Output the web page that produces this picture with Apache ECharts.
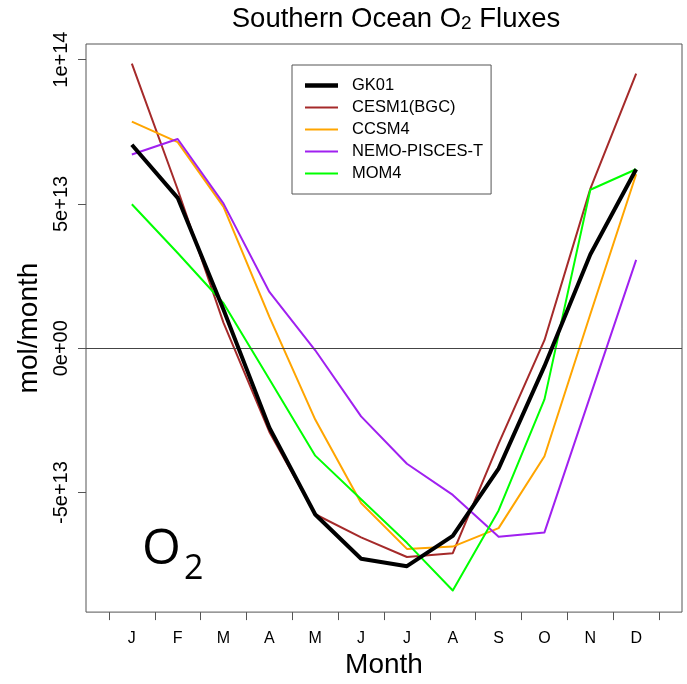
<!DOCTYPE html>
<html>
<head>
<meta charset="utf-8">
<script src="https://cdn.jsdelivr.net/npm/echarts@6/dist/echarts.min.js"></script>
<style>
html,body{margin:0;padding:0;background:#fff;}
#c{width:687px;height:684px;}
</style>
</head>
<body>
<div id="c"></div>
<script>
// ---- data (mol/month) ----
const months = ['J','F','M','A','M','J','J','A','S','O','N','D'];
const seriesNames = ['GK01','CESM1(BGC)','CCSM4','NEMO-PISCES-T','MOM4'];
const gk01  = [7.05e13, 5.21e13, 1.33e13, -2.75e13, -5.76e13, -7.29e13, -7.55e13, -6.50e13, -4.17e13, -0.62e13, 3.25e13, 6.20e13];
const cesm1 = [9.86e13, 5.50e13, 0.88e13, -2.90e13, -5.75e13, -6.55e13, -7.23e13, -7.10e13, -3.30e13, 0.28e13, 5.52e13, 9.51e13];
const ccsm4 = [7.85e13, 7.14e13, 4.90e13, 1.09e13, -2.47e13, -5.36e13, -6.95e13, -6.87e13, -6.23e13, -3.74e13, 1.18e13, 6.03e13];
const nemo  = [6.71e13, 7.25e13, 5.01e13, 1.95e13, -0.07e13, -2.36e13, -4.00e13, -5.08e13, -6.53e13, -6.38e13, -1.65e13, 3.06e13];
const mom4  = [4.99e13, 3.30e13, 1.56e13, -1.07e13, -3.72e13, -5.23e13, -6.74e13, -8.39e13, -5.62e13, -1.77e13, 5.49e13, 6.20e13];
const yTickValues = [-5e13, 0, 5e13, 1e14];
const yTickLabels = ['-5e+13', '0e+00', '5e+13', '1e+14'];

// ---- build ----
const allData = [gk01, cesm1, ccsm4, nemo, mom4];
const colors = ['#000000', '#A52A2A', '#FFA500', '#A020F0', '#00FF00'];
const widths = [4, 2, 2, 2, 2];
const monthPos = months.map((m, i) => i + 1);
const boundaryPos = [0].concat(monthPos).map(v => v + 0.5);
const FONT = '"Liberation Sans", Arial, sans-serif';

const series = allData.map((arr, k) => ({
  name: seriesNames[k],
  type: 'line',
  data: arr.map((v, i) => [monthPos[i], v]),
  showSymbol: false,
  symbol: 'none',
  lineStyle: { color: colors[k], width: widths[k], join: 'round' },
  itemStyle: { color: colors[k] },
  z: k === 0 ? 5 : 3,
  animation: false,
  markLine: k === 0 ? {
    silent: true, symbol: 'none', animation: false,
    label: { show: false },
    lineStyle: { color: '#444', width: 1, type: 'solid' },
    data: [{ yAxis: 0 }]
  } : undefined
}));

const legendData = seriesNames.map((n, k) => ({
  name: n,
  icon: widths[k] > 2 ? 'path://M0,0L33,0L33,4.5L0,4.5Z' : 'path://M0,0L33,0L33,2.2L0,2.2Z',
  itemStyle: { color: colors[k] }
}));

const chart = echarts.init(document.getElementById('c'), null, { renderer: 'canvas' });
chart.setOption({
  backgroundColor: '#fff',
  animation: false,
  title: {
    text: '{n|Southern Ocean O}{s|2}{n| Fluxes}',
    left: 396, top: 3, textAlign: 'center', padding: 0,
    textStyle: {
      fontWeight: 'normal',
      rich: {
        n: { fontFamily: FONT, fontSize: 27.5, fontWeight: 'normal', lineHeight: 30, color: '#000', verticalAlign: 'bottom' },
        s: { fontFamily: FONT, fontSize: 19, fontWeight: 'normal', lineHeight: 20, color: '#000', verticalAlign: 'bottom' }
      }
    }
  },
  grid: { left: 86, right: 5, top: 44, bottom: 61, show: true, borderColor: '#555', borderWidth: 1, containLabel: false },
  xAxis: {
    type: 'value', min: 0, max: 13,
    name: 'Month', nameLocation: 'middle', nameGap: 31,
    nameTextStyle: { fontFamily: FONT, fontSize: 28, color: '#000' },
    axisLine: { show: false, onZero: false },
    splitLine: { show: false },
    axisTick: { show: true, inside: false, length: 8, lineStyle: { color: '#555', width: 1 }, customValues: boundaryPos },
    axisLabel: { show: true, margin: 18, fontFamily: FONT, fontSize: 16, color: '#000', customValues: monthPos,
      formatter: v => months[Math.round(v) - 1] }
  },
  yAxis: {
    type: 'value', min: -9.14e13, max: 1.054e14,
    name: 'mol/month', nameLocation: 'middle', nameGap: 26, nameRotate: 90,
    nameTextStyle: { fontFamily: FONT, fontSize: 28, color: '#000' },
    axisLine: { show: false, onZero: false },
    splitLine: { show: false },
    axisTick: { show: true, inside: false, length: 8, lineStyle: { color: '#555', width: 1 }, customValues: yTickValues },
    axisLabel: { show: true, rotate: 90, margin: 15, fontFamily: FONT, fontSize: 20, color: '#000', customValues: yTickValues,
      formatter: v => { const i = yTickValues.indexOf(v); return i >= 0 ? yTickLabels[i] : ''; } }
  },
  legend: {
    orient: 'vertical', left: 292, top: 65,
    data: legendData,
    itemWidth: 33, itemHeight: 14, itemGap: 5,
    padding: [12, 8, 12, 13],
    borderColor: '#555', borderWidth: 1, backgroundColor: '#fff',
    textStyle: { fontFamily: FONT, fontSize: 16.5, color: '#000', lineHeight: 14, padding: [0, 0, 0, 9] }
  },
  graphic: [
    { type: 'text', left: 142, top: 525, style: { text: 'O', fontFamily: '"Open Sans", sans-serif', fontSize: 50, fill: '#000' } },
    { type: 'text', left: 184, top: 552, style: { text: '2', fontFamily: '"Open Sans", sans-serif', fontSize: 34, fill: '#000' } }
  ],
  series: series
});
</script>
</body>
</html>
